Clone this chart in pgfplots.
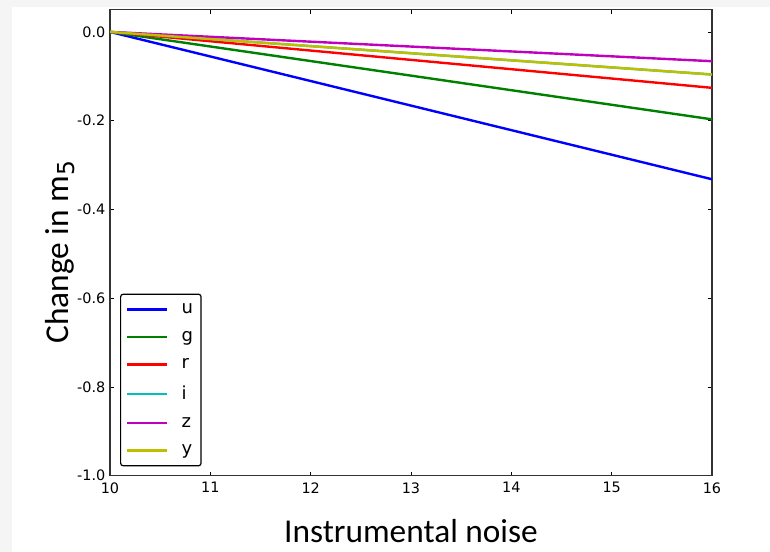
\documentclass[border=0pt]{standalone}
\usepackage{pgfplots}
\pgfplotsset{compat=1.18}
\usepackage{fontspec}
\setmainfont{DejaVu Sans}
\newfontfamily\labelfont{Carlito}
\definecolor{mblue}{rgb}{0,0,1}
\definecolor{mgreen}{rgb}{0,0.5,0}
\definecolor{mred}{rgb}{1,0,0}
\definecolor{mcyan}{rgb}{0,0.75,0.75}
\definecolor{mmag}{rgb}{0.75,0,0.75}
\definecolor{myel}{rgb}{0.75,0.75,0}
\begin{document}
\begin{tikzpicture}
\useasboundingbox (0,0) rectangle (577.5pt,414pt);
\fill[gray!8] (0,0) rectangle (9pt,414pt);
\fill[gray!8] (0,408.5pt) rectangle (577.5pt,414pt);
\begin{axis}[
  at={(82.5pt,57.2pt)}, anchor=south west,
  scale only axis, width=451.5pt, height=349.5pt,
  xmin=10, xmax=16, ymin=-1.0, ymax=0.05,
  xtick={10,11,...,16},
  ytick={-1.0,-0.8,-0.6,-0.4,-0.2,0.0},
  yticklabel style={/pgf/number format/.cd,fixed,fixed zerofill,precision=1},
  xticklabel style={yshift=-1.5pt},
  /pgf/number format/assume math mode=true,
  tick align=inside, major tick length=3pt,
  tick style={black, line width=0.6pt},
  axis line style={black!80, line width=1pt},
  ticklabel style={font=\fontsize{10.8}{12}\selectfont},
  xlabel={Instrumental noise},
  ylabel={Change in m$_{\mathrm{5}}$},
  label style={font=\labelfont\fontsize{25}{29}\selectfont},
  xlabel style={at={(axis description cs:0.5,-0.118)}, anchor=center},
  ylabel style={at={(axis description cs:-0.083,0.48)}, anchor=center},
  legend style={at={(0,0)}, anchor=south west, xshift=7.5pt, yshift=7pt,
    draw=black, line width=0.9pt, rounded corners=2pt, fill=white,
    font=\fontsize{13.5}{14}\selectfont, row sep=7.6pt, column sep=8pt,
    inner xsep=4pt, inner ysep=5pt},
  legend cell align=left,
  legend image code/.code={\draw[#1, line width=1.8pt] (0pt,0pt) -- (30pt,0pt);},
  every axis plot/.append style={line width=1.8pt},
]
\addplot[mblue] coordinates {(10,0) (16,-0.332)};
\addplot[mgreen] coordinates {(10,0) (16,-0.197)};
\addplot[mred] coordinates {(10,0) (16,-0.126)};
\addplot[mcyan] coordinates {(10,0) (16,-0.096)};
\addplot[mmag] coordinates {(10,0) (16,-0.066)};
\addplot[myel] coordinates {(10,0) (16,-0.096)};
\legend{u,g,r,i,z,y}
\end{axis}
\end{tikzpicture}
\end{document}
